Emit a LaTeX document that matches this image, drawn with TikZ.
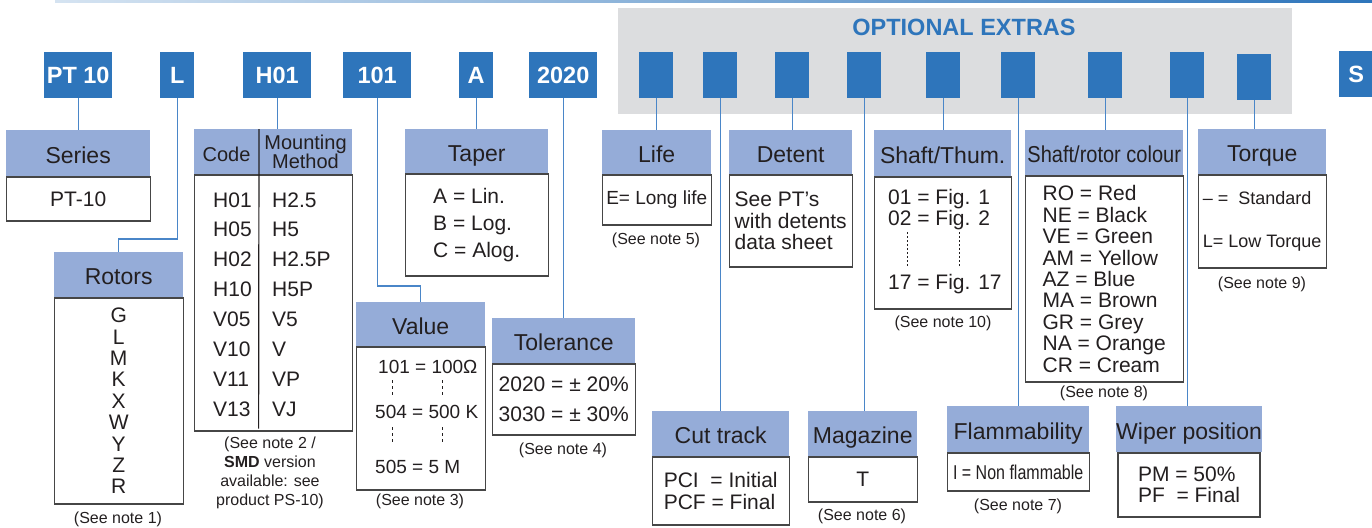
\documentclass[tikz,border=0pt]{standalone}
\usepackage{fontspec}
\setmainfont{Liberation Sans}
\usetikzlibrary{positioning}
\definecolor{codeblue}{RGB}{46,117,187}
\definecolor{headblue}{RGB}{149,172,216}
\definecolor{panel}{RGB}{220,221,223}
\definecolor{txt}{RGB}{35,31,32}
\definecolor{boxgrey}{RGB}{70,70,70}
\definecolor{linkblue}{RGB}{74,134,200}
\begin{document}
\begin{tikzpicture}[x=1pt,y=-1pt,
  code/.style={fill=codeblue,text=white,font=\bfseries\fontsize{23.5}{24}\selectfont,
    minimum width=68,minimum height=46,inner sep=0,anchor=north west},
  tick/.style={code,minimum width=34},
  head/.style={fill=headblue,text=txt,font=\fontsize{23}{24}\selectfont,
    minimum height=45,inner sep=0,anchor=north west,text height=20,text depth=0},
  body/.style={draw=boxgrey,line width=1.2,fill=white,text=txt,
    font=\fontsize{21}{21.4}\selectfont,inner sep=0,align=center,below=0pt of #1},
  note/.style={text=txt,font=\fontsize{16}{19}\selectfont,inner sep=0,align=center},
  entry/.style={text=txt,font=\fontsize{21}{21.4}\selectfont,inner sep=0,anchor=west,align=left},
  link/.style={draw=linkblue,line width=1.1},
  gap/.style={txt,line width=0.8,dash pattern=on 3pt off 3pt}]
\useasboundingbox (0,0) rectangle (1372,527);
\shade[left color=codeblue!20,right color=codeblue] (55,0) rectangle (1372,3);
\fill[panel] (618,8) rectangle (1292,114);
\node[text=codeblue,font=\bfseries\fontsize{23.5}{24}\selectfont,inner sep=0] (extras) at (964,27) {OPTIONAL EXTRAS};

% code boxes
\node[code] (pt) at (44,52) {PT 10};
\node[tick] (l) at (160,52) {L};
\node[code] (h) at (243,52) {H01};
\node[code] (val) at (343,52) {101};
\node[tick] (tap) at (459,52) {A};
\node[code] (tol) at (529,52) {2020};
\node[tick] (o1) at (639,52) {};
\node[tick] (o2) at (703,52) {};
\node[tick] (o3) at (775,52) {};
\node[tick] (o4) at (847,52) {};
\node[tick] (o5) at (926,52) {};
\node[tick] (o6) at (1001,52) {};
\node[tick] (o7) at (1088,52) {};
\node[tick] (o8) at (1170,52) {};
\node[tick] (o9) at (1237,54) {};
\node[tick] (s) at (1339,51) {S};

% series / rotors
\node[head,minimum width=144,minimum height=46] (series) at (6,130) {Series};
\node[body=series,minimum width=144,minimum height=44] (seriesbox) {PT-10};
\node[head,minimum width=129] (rotors) at (54,252) {Rotors};
\node[body=rotors,minimum width=129,minimum height=206] (rotorsbox) {G\\L\\M\\K\\X\\W\\Y\\Z\\R};
\node[note] (rotorsnote) at (118,519) {(See note 1)};

% mounting
\node[head,minimum width=158] (mount) at (194,129) {};
\node[body=mount,minimum width=158,minimum height=256] (mountbox) {};
\draw[txt,line width=1.2] ([xshift=65pt]mount.north west) -- ([xshift=65pt,yshift=3pt]mountbox.south west);
\node[text=txt,font=\fontsize{20}{20}\selectfont,inner sep=0] (codelabel) at (226.5,154) {Code};
\node[text=txt,font=\fontsize{20}{19.5}\selectfont,inner sep=0,align=center] (mountlabel) at (305.5,152) {Mounting\\Method};
\node[entry,font=\fontsize{21}{29.9}\selectfont] (codes) at (213,304.5) {H01\\H05\\H02\\H10\\V05\\V10\\V11\\V13};
\node[entry,font=\fontsize{21}{29.9}\selectfont] (methods) at (272,304.5) {H2.5\\H5\\H2.5P\\H5P\\V5\\V\\VP\\VJ};
\node[note] (mountnote) at (270,473) {(See note 2 /\\\textbf{SMD} version\\available: see\\product PS-10)};

% value
\node[head,minimum width=129,minimum height=44] (value) at (356,302) {Value};
\node[body=value,minimum width=129,minimum height=143] (valuebox) {};
\node[entry,font=\fontsize{19}{20}\selectfont] (v1) at (378,367) {101 = 100Ω};
\node[entry,font=\fontsize{19}{20}\selectfont] (v2) at (375,412) {504 = 500 K};
\node[entry,font=\fontsize{19}{20}\selectfont] (v3) at (375,467) {505 = 5 M};
\draw[gap] (392,380) -- (392,397) (442,380) -- (442,397);
\draw[gap] (392,427) -- (392,443) (442,427) -- (442,443);
\node[note] (valuenote) at (420,501) {(See note 3)};

% taper / tolerance
\node[head,minimum width=143,minimum height=44] (taper) at (405,129) {Taper};
\node[body=taper,minimum width=143,minimum height=102,align=left,
  font=\fontsize{21}{27}\selectfont] (taperbox) {A = Lin.\\B = Log.\\C = Alog.};
\node[head,minimum width=143] (toler) at (492,318) {Tolerance};
\node[body=toler,minimum width=143,minimum height=71,
  font=\fontsize{21}{30}\selectfont] (tolerbox) {2020 = ± 20\%\\3030 = ± 30\%};
\node[note] (tolernote) at (563,450) {(See note 4)};

% life / detent
\node[head,minimum width=109,minimum height=44] (life) at (602,130) {Life};
\node[body=life,minimum width=109,minimum height=50,font=\fontsize{19}{20}\selectfont] (lifebox) {E= Long life};
\node[note] (lifenote) at (656,240) {(See note 5)};
\node[head,minimum width=123,minimum height=44] (detent) at (729,130) {Detent};
\node[body=detent,minimum width=123,minimum height=92,align=left] (detentbox) {See PT's\\with detents\\data sheet};

% cut track / magazine
\node[head,minimum width=137] (cut) at (652,411) {Cut track};
\node[body=cut,minimum width=137,minimum height=68,align=left] (cutbox) {PCI \ = Initial\\PCF = Final};
\node[head,minimum width=109] (magazine) at (808,411) {Magazine};
\node[body=magazine,minimum width=109,minimum height=45] (magazinebox) {T};
\node[note] (magazinenote) at (862,516) {(See note 6)};

% shaft / thumbwheel
\node[head,minimum width=137,minimum height=46] (shaft) at (874,130) {Shaft/Thum.};
\node[body=shaft,minimum width=137,minimum height=132] (shaftbox) {};
\node[entry] (f1) at (888,199) {01 = Fig. 1};
\node[entry] (f2) at (888,220) {02 = Fig. 2};
\node[entry] (f17) at (888,284) {17 = Fig. 17};
\draw[txt,line width=0.8,dash pattern=on 1.5pt off 2.5pt] (907,232) -- (907,268) (959,232) -- (959,268);
\node[note] (shaftnote) at (943,323) {(See note 10)};

% colour
\node[head,minimum width=158] (colour) at (1025,130) {\scalebox{0.87}[1]{Shaft/rotor colour}};
\node[body=colour,minimum width=158,minimum height=206,align=left] (colourbox)
  {RO = Red\\NE = Black\\VE = Green\\AM = Yellow\\AZ = Blue\\MA = Brown\\GR = Grey\\NA = Orange\\CR = Cream};
\node[note] (colournote) at (1104,393) {(See note 8)};

% flammability / wiper
\node[head,minimum width=142,minimum height=46] (flam) at (947,406) {Flammability};
\node[body=flam,minimum width=142,minimum height=38] (flambox) {\scalebox{0.8}[1]{\fontsize{20}{20}\selectfont I = Non flammable}};
\node[note] (flamnote) at (1018,506) {(See note 7)};
\node[head,minimum width=142,minimum height=46] (wiper) at (1116,406) {Wiper position};
\node[body=wiper,minimum width=142,minimum height=64,align=left] (wiperbox) {PM = 50\%\\PF \ = Final};

% torque
\node[head,minimum width=128] (torque) at (1198,129) {Torque};
\node[body=torque,minimum width=128,minimum height=93,align=left,
  font=\fontsize{18}{43}\selectfont] (torquebox) {– =\ \ Standard\\L= Low Torque};
\node[note] (torquenote) at (1262,284) {(See note 9)};

% links
\draw[link] (pt.south) -- (series.north);
\draw[link] (l.south) |- ([yshift=13pt]rotors.north) -| (rotors.north);
\draw[link] (h.south) -- (h.south |- mount.north);
\draw[link] (val.south) |- ([yshift=16pt]value.north) -| (value.north);
\draw[link] (tap.south) -- (tap.south |- taper.north);
\draw[link] (tol.south) -- (tol.south |- toler.north);
\draw[link] (o1.south) -- (o1.south |- life.north);
\draw[link] (o2.south) -- (o2.south |- cut.north);
\draw[link] (o3.south) -- (o3.south |- detent.north);
\draw[link] (o4.south) -- (o4.south |- magazine.north);
\draw[link] (o5.south) -- (o5.south |- shaft.north);
\draw[link] (o6.south) -- (o6.south |- flam.north);
\draw[link] (o7.south) -- (o7.south |- colour.north);
\draw[link] (o8.south) -- (o8.south |- wiper.north);
\draw[link] (o9.south) -- (o9.south |- torque.north);
\end{tikzpicture}
\end{document}
